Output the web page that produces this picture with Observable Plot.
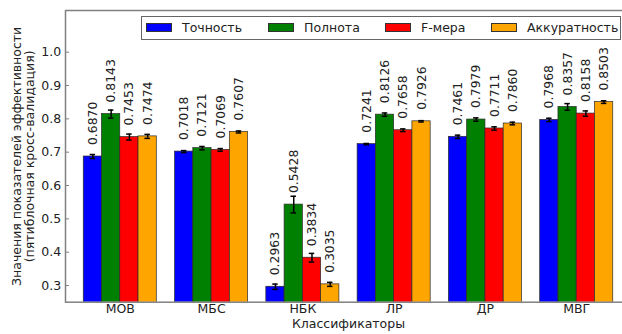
<!DOCTYPE html>
<html>
<head>
<meta charset="utf-8">
<script src="https://cdn.jsdelivr.net/npm/d3@7"></script>
<script src="https://cdn.jsdelivr.net/npm/@observablehq/plot@0.6"></script>
<style>
  html, body { margin: 0; padding: 0; background: #fff; overflow: hidden; }
  #chart { position: relative; width: 622px; height: 334px; overflow: hidden; font-family: "DejaVu Sans", sans-serif; }
  #chart svg { display: block; max-width: none !important; }
  .legend {
    position: absolute; left: 141px; top: 15.5px; width: 480px; height: 24px;
    box-sizing: border-box; border: 1px solid #666; background: #fff;
    font-size: 12.5px; color: #222; white-space: nowrap;
  }
  .legend .item { position: absolute; top: 0; height: 22px; display: flex; align-items: center; }
  .legend .sw { width: 26px; height: 9px; box-sizing: border-box; border: 1px solid #333; margin-right: 10px; flex-shrink: 0; }
</style>
</head>
<body>
<div id="chart"></div>
<script>
// Classifiers on the x axis
const classifiers = ["МОВ", "МБС", "НБК", "ЛР", "ДР", "МВГ"];
// Metrics (one bar per metric within each classifier group)
const metrics = ["Точность", "Полнота", "F-мера", "Аккуратность"];
const colors = ["#0000ff", "#008000", "#ff0000", "#ffa500"];
// Left offset of each legend entry inside the legend box, px
const legendOffsets = [4, 126, 243, 349];

// Mean values over the five folds
const precision = [0.6870, 0.7018, 0.2963, 0.7241, 0.7461, 0.7968];
const recall    = [0.8143, 0.7121, 0.5428, 0.8126, 0.7979, 0.8357];
const fmeasure  = [0.7453, 0.7069, 0.3834, 0.7658, 0.7711, 0.8158];
const accuracy  = [0.7474, 0.7607, 0.3035, 0.7926, 0.7860, 0.8503];

// Standard deviations over the folds (error bars)
const precisionErr = [0.006, 0.003, 0.008, 0.002, 0.005, 0.005];
const recallErr    = [0.012, 0.005, 0.025, 0.005, 0.005, 0.010];
const fmeasureErr  = [0.009, 0.004, 0.013, 0.004, 0.005, 0.008];
const accuracyErr  = [0.006, 0.003, 0.006, 0.002, 0.004, 0.004];

const yTicks = [0.3, 0.4, 0.5, 0.6, 0.7, 0.8, 0.9, 1.0];

const values = [precision, recall, fmeasure, accuracy];
const errors = [precisionErr, recallErr, fmeasureErr, accuracyErr];

// Bar width as a fraction of one group step; groups hold 4 bars plus a gap
const bw = 0.2;
const rows = [];
classifiers.forEach((c, i) => {
  metrics.forEach((m, j) => {
    rows.push({c, i, m, j, v: values[j][i], e: errors[j][i], x: i + (j - 1.5) * bw});
  });
});

const fmt4 = d3.format(".4f");
const ink = "#222";
const spine = "#808080";

// The plot area runs a little past the right edge of the visible page
const plot = Plot.plot({
  width: 631,
  height: 334,
  marginLeft: 65,
  marginRight: 0,
  marginTop: 10,
  marginBottom: 32.3,
  style: {fontFamily: "DejaVu Sans, sans-serif", fontSize: "12.5px", background: "#fff"},
  // one bar width of padding on each side of the outer groups
  x: {type: "linear", domain: [-2 * bw - bw, classifiers.length - 1 + 2 * bw + bw], label: null},
  y: {domain: [0.25, 1.125], label: null},
  marks: [
    Plot.rectY(rows, {
      x1: d => d.x - bw / 2, x2: d => d.x + bw / 2, y1: 0, y2: "v",
      fill: d => colors[d.j], stroke: "#2a2a2a", strokeWidth: 0.7, clip: true
    }),
    // error bars with caps
    Plot.ruleX(rows, {x: "x", y1: d => d.v - d.e, y2: d => d.v + d.e, stroke: "black", strokeWidth: 1.5}),
    Plot.ruleY(rows, {y: d => d.v + d.e, x1: d => d.x - 0.03, x2: d => d.x + 0.03, stroke: "black", strokeWidth: 1.5}),
    Plot.ruleY(rows, {y: d => d.v - d.e, x1: d => d.x - 0.03, x2: d => d.x + 0.03, stroke: "black", strokeWidth: 1.5}),
    // value labels above each bar
    Plot.text(rows, {
      x: "x", y: "v", text: d => fmt4(d.v), rotate: -90, textAnchor: "start",
      dy: -11.5, fontSize: 12.4, fill: ink
    }),
    Plot.axisY({ticks: yTicks, tickFormat: d3.format(".1f"), tickSize: -4, tickPadding: 8.3, stroke: spine, fill: ink, label: null}),
    Plot.axisX({ticks: d3.range(classifiers.length), tickFormat: i => classifiers[i], tickSize: 0, tickPadding: 2, fill: ink, label: null}),
    Plot.frame({stroke: spine, strokeWidth: 1.5}),
    // axis titles
    Plot.text(["Значения показателей эффективности\n(пятиблочная кросс-валидация)"], {
      frameAnchor: "left", dx: -42.5, rotate: -90, textAnchor: "middle", lineHeight: 1.05, fill: ink, fontSize: 12.5
    }),
    Plot.text(["Классификаторы"], {frameAnchor: "bottom", dy: 25.5, textAnchor: "middle", fill: ink, fontSize: 12.5})
  ]
});

const chart = document.getElementById("chart");
chart.appendChild(plot);

// Legend drawn over the top of the plot area
const legend = document.createElement("div");
legend.className = "legend";
metrics.forEach((m, j) => {
  const item = document.createElement("div");
  item.className = "item";
  item.style.left = legendOffsets[j] + "px";
  const sw = document.createElement("span");
  sw.className = "sw";
  sw.style.background = colors[j];
  const label = document.createElement("span");
  label.textContent = m;
  item.appendChild(sw);
  item.appendChild(label);
  legend.appendChild(item);
});
chart.appendChild(legend);
</script>
</body>
</html>
